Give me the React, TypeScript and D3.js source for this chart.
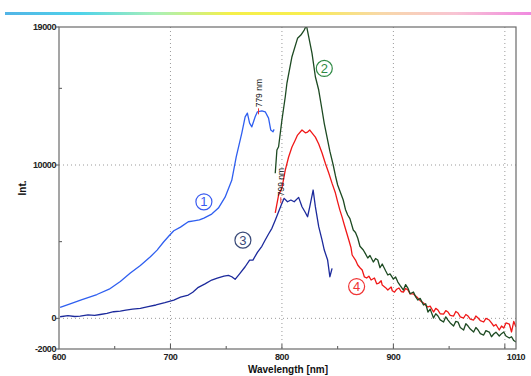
import { useEffect, useRef } from 'react';
import * as d3 from 'd3';

// tick values
const xLabels = [600, 700, 800, 900, 1010];
const xGrid = [700, 800, 900, 1000];
const xMinor = [650, 750, 850, 950];
const yLabels = [19000, 10000, 0, -2000];
const yGrid = [10000, 0];
const yMinor = [5000, 15000];

// spectrum 1 (blue) [nm, intensity]
const curve1: [number, number][] = [
  [601, 717], [610, 950], [620, 1200], [634, 1553], [645, 1900], [655, 2400], [664, 2954],
  [673, 3450], [682, 4016], [688, 4450], [694, 4994], [699, 5400], [703, 5712], [709, 5950],
  [716, 6298], [721, 6363], [726, 6420], [730, 6540], [737, 6800], [743, 7192], [749, 7900],
  [755, 9000], [759, 10536], [764, 12082], [767, 13144], [769, 13386], [771, 12734],
  [773, 12490], [776, 13144], [778, 13470], [782, 13535], [785, 13470], [788, 13060],
  [790, 12277], [792, 12167], [793, 12323],
];

// spectrum 2 (dark green)
const curve2: [number, number][] = [
  [794, 9457], [795.5, 10977], [797, 11190], [800, 12933], [803, 14452], [804.5, 15346],
  [809, 17062], [814, 18262], [817, 18477], [820, 18803], [822, 19100], [824, 18366],
  [827, 17283], [830, 15757], [833, 14890], [836, 13586], [838, 12700], [841, 11629],
  [843, 10900], [846, 10000], [848, 9300], [850, 8694], [852, 8300], [855, 7716], [857, 7100],
  [859, 6737], [861, 6500], [864, 5759], [866, 5600], [868, 5237], [870, 4700], [873, 4455],
  [875, 4200], [877, 3933], [879, 4100], [882, 3672], [884, 3900], [886, 3802], [888, 3300],
  [890, 3541], [893, 3100], [895, 2824], [897, 2900], [900, 2563], [902, 2700], [904, 2367],
  [906, 2150], [909, 1846], [911, 2200], [913, 1976], [915, 1600], [918, 1715], [920, 1400],
  [922, 1194], [924, 1300], [927, 868], [929, 950], [931, 411], [933, 600], [936, 20],
  [938, 300], [940, 150], [942, -100], [945, -241], [947, 100], [949, -111], [951, -300],
  [954, -502], [956, -200], [958, -241], [960, -600], [963, -763], [965, -350], [967, -502],
  [969, -700], [972, -894], [974, -600], [976, -763], [978, -1000], [981, -1089],
  [983, -800], [986, -894], [988, -1200], [990, -1024], [992, -900], [995, -1154],
  [997, -1000], [999, -894], [1001, -1150], [1004, -1285], [1006, -1200], [1008, -1450],
  [1010, -1546],
];

// spectrum 3 (navy)
const curve3: [number, number][] = [
  [601, 104], [608, 180], [614, 120], [619, 150], [626, 220], [632, 190], [637, 250],
  [643, 330], [649, 430], [655, 470], [660, 540], [666, 600], [673, 652], [680, 760],
  [687, 870], [695, 1020], [703, 1193], [709, 1380], [716, 1519], [720, 1700], [725, 2021],
  [731, 2250], [737, 2497], [742, 2620], [748, 2758], [752, 2800], [755, 2712], [758, 2543],
  [762, 2900], [767, 3364], [771, 3801], [774, 3801], [778, 4300], [782, 4700], [785, 5105],
  [788, 5500], [791, 5870], [794, 6400], [797, 6950], [800, 7500], [802, 7826], [805, 7600],
  [808, 7715], [811, 7600], [815, 7890], [818, 7280], [821, 6900], [823, 6626], [825, 7280],
  [828, 8368], [830, 7280], [833, 5975], [836, 5100], [838, 4455], [841, 3800], [843, 2713],
  [845, 3260],
];

// spectrum 4 (red)
const curve4: [number, number][] = [
  [794, 6870], [797, 8040], [800, 8500], [803, 9670], [806, 10520], [809, 11170],
  [812, 11630], [814, 11950], [818, 12280], [821, 12100], [823, 12150], [825, 12280],
  [828, 12000], [830, 11820], [833, 11370], [836, 10780], [839, 10100], [842, 9480],
  [845, 8800], [848, 8170], [850, 7600], [852, 7060], [854, 6600], [856, 6090], [858, 5600],
  [860, 5110], [862, 4600], [863, 4130], [866, 3800], [868, 3480], [870, 3300], [872, 3150],
  [874, 2700], [876, 2630], [878, 2750], [880, 2500], [883, 2630], [885, 2250], [887, 2300],
  [889, 2450], [890, 2170], [893, 2000], [895, 1850], [898, 2040], [899, 1800], [901, 1710],
  [903, 1900], [905, 1980], [907, 1750], [909, 1710], [911, 1950], [913, 1850], [915, 1600],
  [918, 1590], [920, 1450], [922, 1320], [924, 1150], [927, 1000], [929, 850], [931, 740],
  [933, 800], [936, 410], [938, 650], [940, 540], [942, 300], [945, 280], [947, 500],
  [949, 410], [951, 200], [954, 150], [956, 450], [958, 350], [960, 100], [963, 20],
  [965, 250], [967, 150], [969, -50], [972, -110], [974, 150], [976, 20], [978, -150],
  [981, -240], [983, 0], [986, -110], [988, -300], [990, -500], [992, -400], [995, -760],
  [997, -500], [999, -630], [1001, -300], [1004, -370], [1006, -890], [1008, -200],
  [1010, -570],
];

const peakLabels: [number, number, string][] = [
  [779, 13500, '779 nm'],
  [799, 7700, '799 nm'],
];

const circleLabels: [number, number, string, string][] = [
  [730, 7600, '1', '#3a5cf0'],
  [838, 16300, '2', '#2f8a45'],
  [765, 5100, '3', '#3a4a78'],
  [867, 2070, '4', '#f03535'],
];

const rainbow = ['#52b4e6', '#4fd3ea', '#a8f0b8', '#f5f04a', '#f8ee50', '#f8d8a8', '#f8c4d4', '#f08ae0'];

const FONT = '"Liberation Sans", Arial, sans-serif';

const App = () => {
  const svgRef = useRef<SVGSVGElement>(null);

  useEffect(() => {
    const svg = d3.select(svgRef.current);
    svg.selectAll('*').remove();

    const x = d3.scaleLinear().domain([600, 1010]).range([59, 516]);
    const y = d3.scaleLinear().domain([-2000, 19000]).range([349, 27]);
    const [x0, x1] = x.range();
    const [y0, y1] = y.range();

    const defs = svg.append('defs');
    const grad = defs.append('linearGradient').attr('id', 'rb');
    rainbow.forEach((c, i) =>
      grad.append('stop').attr('offset', i / (rainbow.length - 1)).attr('stop-color', c));
    defs.append('clipPath').attr('id', 'plot')
      .append('rect').attr('x', x0).attr('y', y1).attr('width', x1 - x0).attr('height', y0 - y1);

    svg.append('rect')
      .attr('x', 5).attr('y', 12).attr('width', 526).attr('height', 3)
      .attr('fill', 'url(#rb)');

    // grid
    const grid = svg.append('g').attr('stroke', '#9a9a9a').attr('stroke-dasharray', '1,3');
    xGrid.forEach(v => grid.append('line')
      .attr('x1', x(v)).attr('x2', x(v)).attr('y1', y1).attr('y2', y0));
    yGrid.forEach(v => grid.append('line')
      .attr('x1', x0).attr('x2', x1).attr('y1', y(v)).attr('y2', y(v)));

    // ticks
    const ticks = svg.append('g').attr('stroke', '#555').attr('stroke-width', 1);
    yLabels.forEach(v => ticks.append('line')
      .attr('x1', x0 - 3).attr('x2', x0).attr('y1', y(v)).attr('y2', y(v)));
    yMinor.forEach(v => ticks.append('line')
      .attr('x1', x0).attr('x2', x0 + 3).attr('y1', y(v)).attr('y2', y(v)));
    xGrid.forEach(v => ticks.append('line')
      .attr('x1', x(v)).attr('x2', x(v)).attr('y1', y0).attr('y2', y0 - 5));
    xMinor.forEach(v => ticks.append('line')
      .attr('x1', x(v)).attr('x2', x(v)).attr('y1', y0).attr('y2', y0 - 3));

    const line = d3.line<[number, number]>().x(d => x(d[0])).y(d => y(d[1]));
    const plot = svg.append('g').attr('clip-path', 'url(#plot)');
    const series: [[number, number][], string][] = [
      [curve1, '#2f5ff0'],
      [curve3, '#1c2a9c'],
      [curve4, '#f01818'],
      [curve2, '#1d4a22'],
    ];
    series.forEach(([data, color]) => plot.append('path')
      .datum(data)
      .attr('d', line)
      .attr('fill', 'none')
      .attr('stroke', color)
      .attr('stroke-width', 1.3)
      .attr('stroke-linejoin', 'round'));

    // frame
    svg.append('rect')
      .attr('x', x0).attr('y', y1).attr('width', x1 - x0).attr('height', y0 - y1)
      .attr('fill', 'none').attr('stroke', '#6a6a6a').attr('stroke-width', 1.2);

    // peak annotations
    peakLabels.forEach(([w, v, t]) => {
      const px = x(w), py = y(v);
      svg.append('line')
        .attr('x1', px).attr('x2', px).attr('y1', py - 3).attr('y2', py + 3)
        .attr('stroke', '#f03030').attr('stroke-width', 1);
      svg.append('text')
        .attr('transform', `translate(${px + 3},${py - 4}) rotate(-90)`)
        .attr('font-family', FONT).attr('font-size', 8.5).attr('fill', '#111')
        .text(t);
    });

    // circled numbers
    circleLabels.forEach(([w, v, t, c]) => {
      const g = svg.append('g').attr('transform', `translate(${x(w)},${y(v)})`);
      g.append('circle').attr('r', 8).attr('fill', '#fff')
        .attr('stroke', c).attr('stroke-width', 1.2);
      g.append('text').attr('y', 4.5).attr('text-anchor', 'middle')
        .attr('font-family', FONT).attr('font-size', 13).attr('fill', c)
        .text(t);
    });

    // tick labels
    const lab = svg.append('g')
      .attr('font-family', FONT).attr('font-size', 9).attr('font-weight', 'bold')
      .attr('fill', '#222').attr('letter-spacing', -0.4);
    yLabels.forEach(v => lab.append('text')
      .attr('x', x0 - 3).attr('y', y(v) + 3).attr('text-anchor', 'end').text(v));
    xLabels.forEach(v => lab.append('text')
      .attr('x', x(v)).attr('y', y0 + 11).attr('text-anchor', 'middle').text(v));

    svg.append('text')
      .attr('x', 288).attr('y', 373).attr('text-anchor', 'middle')
      .attr('font-family', FONT).attr('font-size', 10).attr('font-weight', 'bold')
      .attr('fill', '#111').text('Wavelength [nm]');
    svg.append('text')
      .attr('transform', 'translate(26,188) rotate(-90)').attr('text-anchor', 'middle')
      .attr('font-family', FONT).attr('font-size', 10).attr('font-weight', 'bold')
      .attr('fill', '#111').text('Int.');
  }, []);

  return (
    <div style={{ position: 'absolute', left: 0, top: 0, background: '#fff' }}>
      <svg ref={svgRef} width={531} height={376} style={{ display: 'block' }} />
    </div>
  );
};

export default App;
